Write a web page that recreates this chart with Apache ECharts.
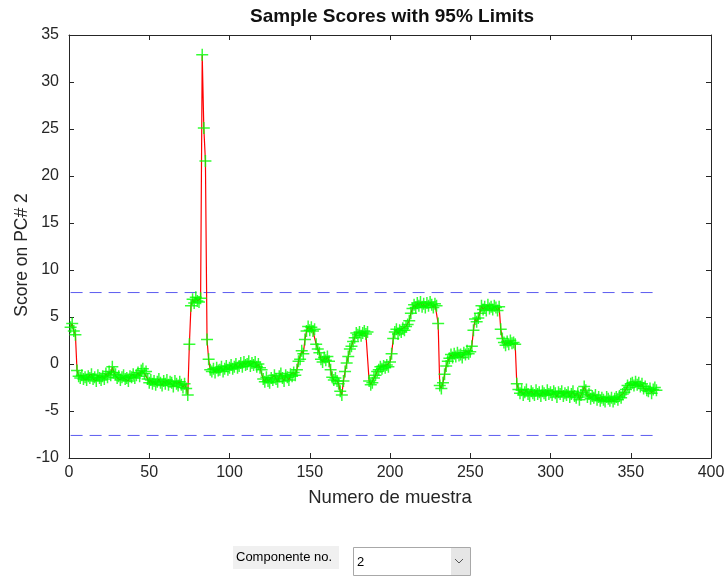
<!DOCTYPE html>
<html><head><meta charset="utf-8">
<script src="https://cdn.jsdelivr.net/npm/echarts@6/dist/echarts.min.js"></script>
<style>html,body{margin:0;padding:0;background:#fff;} #c{width:728px;height:577px;}</style>
</head><body><div id="c"></div>
<script>
// Scores on PC# 2 for samples 1..366
const sampleScores = [
 3.9, 4.3, 3.5, 3.1, -0.7, -1.3, -1.5, -1.2, -1.6, -1.4,
 -1.7, -1.3, -1.5, -1.1, -1.6, -1.4, -1.8, -1.2, -1.5, -1.7,
 -1.3, -1.6, -1.0, -1.4, -0.8, -1.2, -0.3, -0.9, -1.1, -1.5,
 -1.3, -1.7, -1.4, -1.2, -1.6, -1.5, -1.8, -1.3, -1.4, -1.1,
 -1.5, -1.2, -0.9, -1.3, -0.7, -0.5, -1.0, -0.8, -1.6, -2.0,
 -1.7, -2.1, -1.8, -2.2, -1.9, -1.6, -2.0, -2.3, -1.8, -2.1,
 -1.7, -2.2, -1.9, -2.0, -2.4, -1.8, -2.1, -2.3, -1.9, -2.2,
 -2.5, -2.1, -2.6, -3.3, 2.1, 6.2, 6.9, 6.5, 7.1, 6.7,
 6.6, 7.0, 32.9, 25.1, 21.6, 2.6, 0.5, -0.6, -0.8, -0.5,
 -0.9, -0.4, -0.7, -0.6, -0.3, -0.8, -0.5, -0.2, -0.6, -0.4,
 -0.1, -0.5, -0.3, 0.0, -0.4, -0.2, 0.1, -0.3, 0.2, -0.1,
 0.0, 0.3, -0.2, 0.1, -0.1, 0.2, -0.3, 0.0, -0.4, -0.6,
 -1.6, -1.9, -1.4, -1.8, -2.0, -1.5, -1.7, -1.2, -1.6, -1.9,
 -1.3, -1.0, -1.5, -1.8, -1.2, -1.4, -1.7, -1.1, -1.3, -0.9,
 -1.2, -0.6, 0.3, 0.5, 1.4, 1.1, 2.6, 3.5, 4.0, 3.6,
 3.9, 3.5, 3.7, 2.1, 1.6, 1.2, 0.5, 0.2, 0.7, 0.4,
 0.8, 0.3, -0.6, -1.4, -1.7, -1.5, -1.8, -2.1, -2.9, -3.3,
 -1.8, -0.8, 0.1, 0.8, 1.6, 1.9, 2.4, 2.8, 3.3, 3.1,
 3.4, 3.0, 3.3, 3.5, 3.2, 3.4, -1.8, -2.2, -2.0, -1.5,
 -1.2, -0.8, -0.6, -0.3, -0.5, -0.2, -0.4, -0.1, -0.3, 0.2,
 1.1, 2.7, 3.4, 3.7, 3.2, 3.6, 3.4, 3.8, 3.6, 4.0,
 4.2, 4.6, 5.4, 5.9, 6.3, 6.0, 6.5, 6.2, 6.6, 6.1,
 6.4, 6.0, 6.5, 6.2, 6.6, 6.3, 6.0, 6.4, 6.2, 4.3,
 -2.3, -2.6, -2.0, -1.1, -0.2, 0.3, 0.6, 1.0, 0.7, 1.1,
 0.8, 1.2, 0.9, 1.0, 0.7, 1.2, 1.0, 1.4, 1.1, 1.3,
 1.9, 3.6, 4.8, 4.5, 4.9, 5.4, 6.2, 5.8, 6.1, 5.7,
 6.3, 5.9, 6.1, 5.8, 6.2, 6.0, 5.7, 6.1, 3.7, 2.7,
 2.3, 2.0, 2.4, 2.1, 2.5, 2.2, 2.3, 2.1, -2.1, -2.7,
 -3.1, -2.8, -3.3, -3.0, -2.7, -3.2, -3.4, -2.9, -3.1, -3.3,
 -2.8, -3.2, -3.0, -3.4, -2.9, -3.1, -3.3, -2.8, -3.2, -3.0,
 -3.3, -2.9, -3.1, -3.5, -3.0, -3.2, -2.9, -3.4, -3.1, -3.3,
 -3.0, -3.5, -3.2, -2.9, -3.4, -3.6, -3.1, -3.8, -3.3, -3.0,
 -2.4, -2.8, -3.5, -3.2, -3.7, -3.4, -3.6, -3.3, -3.8, -3.5,
 -3.9, -3.6, -3.8, -4.0, -3.5, -3.7, -3.9, -3.6, -4.0, -3.7,
 -3.5, -3.8, -3.4, -3.6, -3.2, -3.0, -2.7, -2.3, -2.5, -2.1,
 -2.0, -2.3, -1.9, -2.2, -2.0, -2.4, -2.1, -2.6, -2.4, -2.8,
 -2.9, -2.6, -3.1, -2.7, -2.5, -2.8
];
const upperLimit = 7.6;
const lowerLimit = -7.6;
const limitRange = [1, 366];
const xTicks = [0, 50, 100, 150, 200, 250, 300, 350, 400];
const yTicks = [-10, -5, 0, 5, 10, 15, 20, 25, 30, 35];
const componentLabel = 'Componente no.';
const componentValue = '2';

const FONT = 'Liberation Sans, Arial, Helvetica, sans-serif';
const AX = '#262626';
const scorePts = sampleScores.map((v, i) => [i + 1, v]);
const plus = 'path://M5.25,0h1.5v5.25h5.25v1.5h-5.25v5.25h-1.5v-5.25h-5.25v-1.5h5.25z';

const chart = echarts.init(document.getElementById('c'), null, {renderer: 'canvas'});
const axisCommon = {
  type: 'value', splitLine: {show: false},
  axisLine: {show: true, onZero: false, lineStyle: {color: AX, width: 1}},
  axisTick: {show: true, inside: true, length: 5, lineStyle: {color: AX}},
};
const limitStyle = {color: '#5c5cf0', width: 1, type: [12, 7]};
chart.setOption({
  animation: false,
  backgroundColor: '#fff',
  graphic: [
    {type: 'text', x: 392, y: 17, style: {text: 'Sample Scores with 95% Limits', font: 'bold 19px ' + FONT, fill: '#111', textAlign: 'center', textVerticalAlign: 'middle'}},
    {type: 'text', x: 22, y: 255, rotation: Math.PI / 2, style: {text: 'Score on PC# 2', font: '17.5px ' + FONT, fill: AX, textAlign: 'center', textVerticalAlign: 'middle'}},
    {type: 'rect', shape: {x: 233, y: 546, width: 106, height: 23}, style: {fill: '#f0f0f0'}},
    {type: 'text', x: 236, y: 557, style: {text: componentLabel, font: '13px ' + FONT, fill: '#000', textVerticalAlign: 'middle'}},
    {type: 'rect', shape: {x: 353.5, y: 547.5, width: 117, height: 28}, style: {fill: '#fff', stroke: '#a8a8a8', lineWidth: 1}},
    {type: 'rect', shape: {x: 451, y: 548, width: 19, height: 27}, style: {fill: '#e6e6e6'}},
    {type: 'text', x: 357, y: 562, style: {text: componentValue, font: '13px ' + FONT, fill: '#000', textVerticalAlign: 'middle'}},
    {type: 'polyline', shape: {points: [[455, 559], [459, 563], [463, 559]]}, style: {stroke: '#555', lineWidth: 1, fill: null}}
  ],
  grid: {left: 69, right: 17, top: 35, bottom: 119, show: false},
  xAxis: [
    Object.assign({}, axisCommon, {
      min: 0, max: 400, interval: 50, position: 'bottom',
      axisLabel: {color: AX, fontSize: 16, fontFamily: FONT, margin: 7, formatter: v => xTicks.includes(v) ? String(v) : ''},
      name: 'Numero de muestra', nameLocation: 'middle', nameGap: 30,
      nameTextStyle: {color: AX, fontSize: 18.5, fontFamily: FONT}
    }),
    Object.assign({}, axisCommon, {min: 0, max: 400, interval: 50, position: 'top', axisLabel: {show: false}})
  ],
  yAxis: [
    Object.assign({}, axisCommon, {
      min: -10, max: 35, interval: 5, position: 'left',
      axisLabel: {color: AX, fontSize: 16, fontFamily: FONT, margin: 10, formatter: v => yTicks.includes(v) ? String(v) : ''}
    }),
    Object.assign({}, axisCommon, {min: -10, max: 35, interval: 5, position: 'right', axisLabel: {show: false}})
  ],
  series: [
    {type: 'line', name: 'upper', color: '#5c5cf0', data: [[limitRange[0], upperLimit], [limitRange[1], upperLimit]], showSymbol: false, symbol: 'none',
     lineStyle: limitStyle, z: 2},
    {type: 'line', name: 'lower', color: '#5c5cf0', data: [[limitRange[0], lowerLimit], [limitRange[1], lowerLimit]], showSymbol: false, symbol: 'none',
     lineStyle: limitStyle, z: 2},
    {type: 'line', name: 'scores', color: '#ff0000', data: scorePts, showSymbol: false, symbol: 'none',
     lineStyle: {color: '#ff0000', width: 1.2}, z: 3},
    {type: 'scatter', name: 'markers', data: scorePts, symbol: plus, symbolSize: 12,
     itemStyle: {color: '#00ff00'}, z: 4}
  ]
});
</script></body></html>
